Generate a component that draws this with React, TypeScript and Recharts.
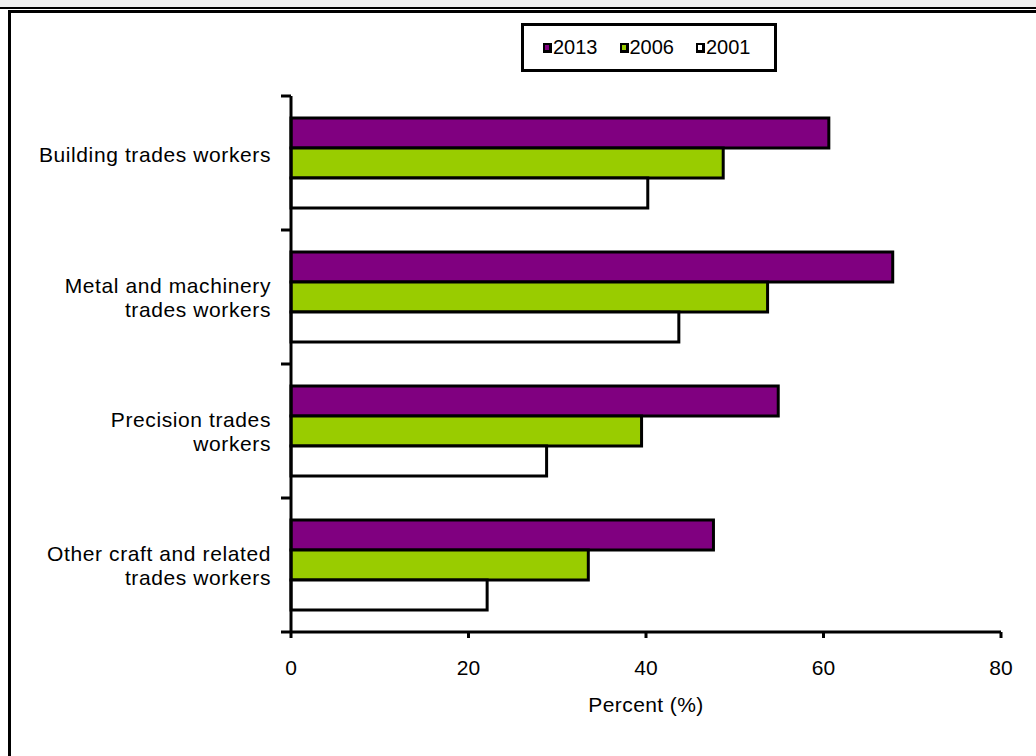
import React from "react";
import { BarChart, Bar, XAxis, YAxis, Label } from "recharts";

const FONT = '"Liberation Sans", Arial, sans-serif';

const categories = [
  "Building trades workers",
  "Metal and machinery\ntrades workers",
  "Precision trades\nworkers",
  "Other craft and related\ntrades workers",
];

const v2013 = [60.6, 67.8, 54.9, 47.6];
const v2006 = [48.7, 53.7, 39.5, 33.5];
const v2001 = [40.2, 43.7, 28.8, 22.1];

const xTicks = [0, 20, 40, 60, 80];

const series = [
  { key: "y2013", name: "2013", fill: "#800080" },
  { key: "y2006", name: "2006", fill: "#99cc00" },
  { key: "y2001", name: "2001", fill: "#ffffff" },
];

const data = categories.map((c, i) => ({
  name: c,
  y2013: v2013[i],
  y2006: v2006[i],
  y2001: v2001[i],
}));

// Excel style: tick marks sit on the category boundaries, labels in the middle
const CategoryTick = (props: any) => {
  const { x, y, payload, index } = props;
  const half = payload && payload.offset ? payload.offset : 67;
  const lines = String(payload.value).split("\n");
  const lh = 24;
  // single-line labels sit a little above the band centre in the original
  const start = lines.length === 1 ? y - 9 : y - ((lines.length - 1) * lh) / 2;
  return (
    <g>
      <line x1={x - 10} x2={x} y1={y - half} y2={y - half} stroke="#000" strokeWidth={3} />
      {index === categories.length - 1 && (
        <line x1={x - 10} x2={x} y1={y + half} y2={y + half} stroke="#000" strokeWidth={3} />
      )}
      <text
        x={x - 20}
        y={start}
        textAnchor="end"
        dominantBaseline="central"
        fontSize={21}
        letterSpacing={0.6}
        fontFamily={FONT}
        fill="#000"
      >
        {lines.map((l, i) => (
          <tspan key={i} x={x - 20} dy={i === 0 ? 0 : lh}>
            {l}
          </tspan>
        ))}
      </text>
    </g>
  );
};

export default function App() {
  return (
    <div style={{ position: "absolute", left: 0, top: 0, width: 1036, height: 756, background: "#fff", overflow: "hidden", fontFamily: FONT }}>
      {/* frame bits */}
      <div style={{ position: "absolute", left: 0, top: 0, width: 1036, height: 7, background: "#f0f0f0" }} />
      <div style={{ position: "absolute", left: 0, top: 7, width: 1036, height: 2, background: "#000" }} />
      <div style={{ position: "absolute", left: 8, top: 10, width: 1040, height: 760, borderTop: "3px solid #000", borderLeft: "3px solid #000" }} />

      <div style={{ position: "absolute", left: 0, top: 0 }}>
        <BarChart
          width={1036}
          height={756}
          data={data}
          layout="vertical"
          barSize={30}
          barGap={0}
          margin={{ top: 96, right: 35, bottom: 40, left: 0 }}
        >
          <XAxis
            type="number"
            domain={[0, 80]}
            ticks={xTicks}
            height={84}
            axisLine={{ stroke: "#000", strokeWidth: 3 }}
            tickLine={{ stroke: "#000", strokeWidth: 3 }}
            tickSize={6}
            tickMargin={22}
            tick={{ fill: "#000", fontSize: 21, fontFamily: FONT }}
          >
            <Label value="Percent (%)" position="insideBottom" offset={4} fill="#000" fontSize={21} letterSpacing={0.4} fontFamily={FONT} />
          </XAxis>
          <YAxis
            type="category"
            dataKey="name"
            width={291}
            axisLine={{ stroke: "#000", strokeWidth: 3 }}
            tickLine={false}
            tickSize={0}
            tickMargin={0}
            interval={0}
            tick={<CategoryTick />}
          />
          {series.map((s) => (
            <Bar key={s.key} dataKey={s.key} name={s.name} fill={s.fill} stroke="#000" strokeWidth={3} isAnimationActive={false} />
          ))}
        </BarChart>
      </div>

      <div
        style={{
          position: "absolute",
          left: 521,
          top: 23,
          width: 256,
          height: 49,
          boxSizing: "border-box",
          border: "3px solid #000",
          display: "flex",
          alignItems: "center",
          paddingLeft: 19,
          fontSize: 20,
          color: "#000",
        }}
      >
        {series.map((s, i) => (
          <div key={s.key} style={{ display: "flex", alignItems: "center", marginLeft: i === 0 ? 0 : 22 }}>
            <span style={{ display: "inline-block", width: 4, height: 5, border: "2px solid #000", borderWidth: "2px 3px 3px 2px", background: s.fill, marginRight: 1 }} />
            <span>{s.name}</span>
          </div>
        ))}
      </div>
    </div>
  );
}
